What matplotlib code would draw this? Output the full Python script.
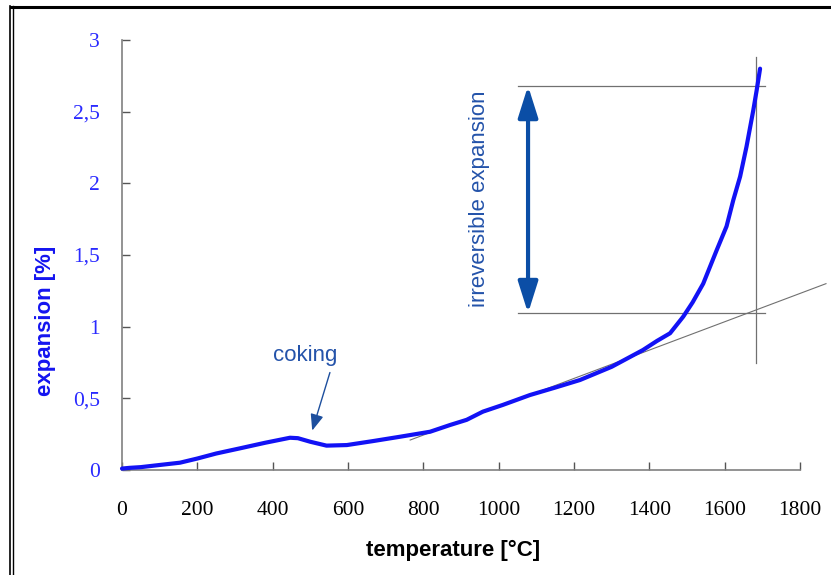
import numpy as np
import matplotlib.pyplot as plt
from matplotlib.lines import Line2D

# dilatometer curve
temp = [0, 20, 50, 100, 154, 200, 250, 313, 380, 446, 467, 500, 543, 597,
        667, 738, 818, 871, 915, 958, 1011, 1083, 1150, 1216, 1300, 1383,
        1420, 1455, 1490, 1515, 1543, 1579, 1605, 1623, 1641, 1658, 1676,
        1685, 1694]
expansion = [0.01, 0.015, 0.02, 0.035, 0.051, 0.08, 0.115, 0.151, 0.19, 0.225,
             0.222, 0.197, 0.17, 0.174, 0.202, 0.232, 0.267, 0.314, 0.35,
             0.407, 0.454, 0.523, 0.575, 0.628, 0.72, 0.837, 0.90, 0.954,
             1.07, 1.17, 1.30, 1.535, 1.70, 1.884, 2.047, 2.256, 2.51, 2.65,
             2.80]

# construction lines
tangent_x = [765, 1869]
tangent_y = [0.209, 1.30]
level_hi = 2.68
level_lo = 1.094
level_x = [1051, 1707]
vert_x = 1683
vert_y = [0.747, 2.88]
arrow_x = 1078

xticks = np.arange(0, 1801, 200)
yticks = [0, 0.5, 1, 1.5, 2, 2.5, 3]
yticklabels = ['0', '0,5', '1', '1,5', '2', '2,5', '3']

fig = plt.figure(figsize=(8.31, 5.75), dpi=100)
ax = fig.add_axes([122/831, 1 - 470/575, 678/831, 430/575])

grey = '#707070'
ax.plot(tangent_x, tangent_y, color=grey, lw=0.8, clip_on=False)
ax.plot(level_x, [level_hi, level_hi], color=grey, lw=0.9, clip_on=False)
ax.plot(level_x, [level_lo, level_lo], color=grey, lw=0.9, clip_on=False)
ax.plot([vert_x, vert_x], vert_y, color=grey, lw=0.9, clip_on=False)

ax.plot(temp, expansion, color='#1212f5', lw=3, solid_capstyle='round',
        solid_joinstyle='round', clip_on=False, zorder=5)

# double arrow
ax.annotate('', xy=(arrow_x, level_lo), xytext=(arrow_x, level_hi),
            arrowprops=dict(arrowstyle='<|-|>,head_length=0.95,head_width=0.3',
                            color='#0b4ea6', lw=3, mutation_scale=20,
                            shrinkA=0, shrinkB=0))
ax.text(948, 1.89, 'irreversible expansion', rotation=90, ha='center',
        va='center', color='#2453aa', fontsize=16, family='Liberation Sans')

# coking label
ax.text(486, 0.80, 'coking', ha='center', va='center', color='#2453aa',
        fontsize=16, family='Liberation Sans')
ax.annotate('', xy=(505, 0.275), xytext=(552, 0.68),
            arrowprops=dict(arrowstyle='-|>,head_length=0.55,head_width=0.22',
                            color='#1d4f9e', lw=1, mutation_scale=18,
                            shrinkA=0, shrinkB=0))

ax.set_xlim(0, 1800)
ax.set_ylim(0, 3)
ax.set_xticks(xticks)
ax.set_yticks(yticks)
ax.set_yticklabels(yticklabels)

for s in ['top', 'right']:
    ax.spines[s].set_visible(False)
for s in ['left', 'bottom']:
    ax.spines[s].set_color('#808080')
    ax.spines[s].set_linewidth(1.2)

ax.tick_params(axis='both', direction='in', length=6, width=1, color='#555555')
ax.tick_params(axis='x', pad=22, labelsize=15.5)
ax.tick_params(axis='y', pad=16, labelsize=15.5, labelcolor='#2a2aff')
for lab in ax.get_xticklabels() + ax.get_yticklabels():
    lab.set_family('Liberation Serif')

ax.set_xlabel('temperature [°C]', fontsize=16, fontweight='bold',
              family='Liberation Sans', color='black')
ax.set_ylabel('expansion [%]', fontsize=16, fontweight='bold',
              family='Liberation Sans', color='#1414f0')
ax.xaxis.set_label_coords(331/678, -70/430)
ax.yaxis.set_label_coords(-66/678, 149/430)

# frame round the picture
fig.add_artist(Line2D([11/831, 1], [1 - 6.5/575] * 2, color='black', lw=2.2,
                      transform=fig.transFigure))
fig.add_artist(Line2D([10/831] * 2, [0, 1 - 6/575], color='black', lw=1.2,
                      transform=fig.transFigure))
fig.add_artist(Line2D([13/831] * 2, [0, 1 - 6/575], color='black', lw=1.0,
                      transform=fig.transFigure))

fig.savefig('out.png', dpi=100)
